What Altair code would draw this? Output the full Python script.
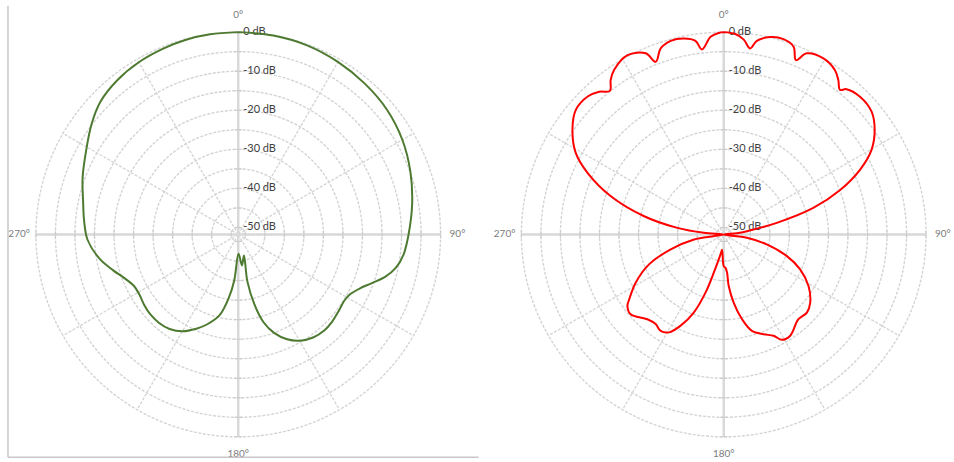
import altair as alt
import pandas as pd

# Polar response plots: level in dB against angle (clockwise from 0° on top)
FLOOR_DB = -51.8                      # level that sits at the centre of each plot
RING_DB = [0, -5, -10, -15, -20, -25, -30, -35, -40, -45, -50]
LABEL_DB = [0, -10, -20, -30, -40, -50]
SPOKE_DEG = list(range(0, 360, 30))
COMPASS_DEG = [0, 90, 180, 270]
COMPASS_TEXT = ["0°", "90°", "180°", "270°"]

# left pattern (green), listed in drawing order
green_deg = [0, 10, 20, 30, 40, 50, 60, 70, 80, 90, 97, 102, 106, 110, 114, 118, 122,
             127, 133, 138, 144, 150, 155, 160, 164, 167, 169, 164.8, 173.2, 179, 185,
             188.4, 193, 199, 204, 210, 216, 222, 228, 233, 239, 244, 249, 254, 260,
             268, 275, 282, 290, 299, 307, 314, 322, 330, 338, 345, 352, 360]
green_db = [0, -0.1, -0.3, -0.8, -1.4, -2.1, -3.3, -4.9, -6.6, -8.2, -9.2, -10.6,
            -12.6, -15.4, -17.8, -19.3, -19.8, -19.5, -19.0, -18.8, -19.2, -20.4,
            -22.2, -25.0, -28.5, -33.5, -39.5, -46.2, -43.8, -46.9, -40.0, -35.5,
            -30.6, -27.5, -25.4, -23.2, -21.9, -21.4, -21.4, -21.7, -22.2, -22.0,
            -20.6, -18.5, -15.8, -13.2, -12.2, -11.2, -9.4, -7.3, -4.8, -2.8, -1.6,
            -0.9, -0.5, -0.2, -0.05, 0]

# right pattern (red), listed in drawing order
red_deg = [0, 3.3, 5.8, 8.1, 9.7, 13.2, 17.0, 20.4, 22.5, 24.6, 29.5, 34.1, 36.6,
           38.8, 40.2, 44.7, 50.3, 55.3, 60.2, 64.6, 69.1, 73.5, 77.7, 81.9, 84.3,
           90, 98.1, 103, 108.9, 114.5, 121.3, 128.3, 133.2, 138.6, 146.7, 151.1,
           153.8, 158.2, 163.7, 167.8, 171.7, 174.5, 175, 177.1, 180, 186.3, 188.3,
           191.3, 194.6, 197.4, 201, 205.3, 209.2, 213.2, 217.2, 222, 229.4, 233.4,
           235.6, 241.3, 248.2, 254.3, 260.5, 260.5, 270, 274.8, 278.1, 282.9, 288.7,
           294.3, 298.8, 304.7, 310.1, 315.4, 318.9, 321.6, 323.8, 326.3, 331.8,
           336.7, 338.5, 341.3, 344.7, 348.5, 351.7, 353.3, 356.2, 358.6, 360]
red_db = [0.0, -0.4, -1.6, -3.7, -1.5, 0.1, 0.5, -0.5, -3.5, -0.8, 0.0, -1.0, -2.6,
          -4.3, -3.1, -2.2, -2.6, -4.8, -8.2, -13.2, -19.9, -27.9, -37.9, -45.8,
          -48.4, -51.8, -45.8, -40.5, -34.7, -30.3, -26.4, -23.6, -22.6, -22.9,
          -20.8, -21.0, -22.9, -24.3, -26.1, -29.6, -34.2, -38.6, -42.0, -43.3,
          -43.7, -47.9, -47.1, -45.3, -41.7, -36.2, -30.4, -26.0, -23.1, -22.3,
          -23.0, -22.6, -20.4, -21.1, -22.5, -26.1, -31.2, -37.7, -44.1, -49.2,
          -51.8, -46.7, -39.8, -30.9, -21.3, -13.6, -8.6, -4.7, -2.3, -2.2, -3.3,
          -4.9, -2.8, -1.2, 0.3, -1.3, -4.3, -1.5, -0.4, -0.6, -1.7, -4.1, -1.1,
          -0.2, 0.0]

PX_PER_UNIT = 203 / (0 - FLOOR_DB)
H = 462
CENTRE_Y = 234.5


def to_xy(chart):
    """Project (deg, db) rows onto plot coordinates."""
    return chart.transform_calculate(
        r=f"datum.db - ({FLOOR_DB})",
        x="datum.r * sin(datum.deg * PI / 180)",
        y="datum.r * cos(datum.deg * PI / 180)",
    )


def panel(deg, db, color, width, centre_px, frame):
    xs = alt.Scale(domain=[-centre_px / PX_PER_UNIT, (width - centre_px) / PX_PER_UNIT],
                   nice=False, zero=False)
    ys = alt.Scale(domain=[-(H - CENTRE_Y) / PX_PER_UNIT, CENTRE_Y / PX_PER_UNIT],
                   nice=False, zero=False)
    X = lambda f: alt.X(f, scale=xs, axis=None)
    Y = lambda f: alt.Y(f, scale=ys, axis=None)

    ring_rows = [{"level": lv, "deg": d, "db": lv} for lv in RING_DB for d in range(0, 362, 2)]
    rings = to_xy(alt.Chart(pd.DataFrame(ring_rows))).mark_line(
        color="#d4d4d4", strokeWidth=1.4, strokeDash=[3, 1.5]
    ).encode(x=X("x:Q"), y=Y("y:Q"), detail="level:N", order="deg:Q")

    spokes = to_xy(alt.Chart(pd.DataFrame({"deg": SPOKE_DEG, "db": 0}))).transform_calculate(
        x0="0", y0="0"
    ).mark_rule(color="#d6d6d6", strokeWidth=1.4, strokeDash=[3, 1.5]).encode(
        x=X("x0:Q"), y=Y("y0:Q"), x2="x:Q", y2="y:Q")

    axes = to_xy(alt.Chart(pd.DataFrame({"deg": [0, 90], "db": 0}))).transform_calculate(
        xn="-datum.x", yn="-datum.y"
    ).mark_rule(color="#d9d9d9", strokeWidth=2.5).encode(
        x=X("x:Q"), y=Y("y:Q"), x2="xn:Q", y2="yn:Q")

    tick_rows = pd.DataFrame([{"deg": d, "db": lv} for d in COMPASS_DEG for lv in RING_DB])
    ticks_h = to_xy(alt.Chart(tick_rows)).transform_filter(
        "datum.deg == 90 || datum.deg == 270"
    ).mark_tick(orient="vertical", size=8, thickness=1, color="#c4c4c4").encode(
        x=X("x:Q"), y=Y("y:Q"))
    ticks_v = to_xy(alt.Chart(tick_rows)).transform_filter(
        "datum.deg == 0 || datum.deg == 180"
    ).mark_tick(orient="horizontal", size=8, thickness=1, color="#c4c4c4").encode(
        x=X("x:Q"), y=Y("y:Q"))

    db_labels = to_xy(alt.Chart(pd.DataFrame({"deg": 0, "db": LABEL_DB}))).transform_calculate(
        txt="datum.db + ' dB'"
    ).mark_text(align="left", baseline="middle", dx=5, fontSize=11,
                font="Lato", color="#404040").encode(x=X("x:Q"), y=Y("y:Q"), text="txt:N")

    compass = to_xy(alt.Chart(pd.DataFrame(
        {"deg": COMPASS_DEG, "db": 4.3, "txt": COMPASS_TEXT}))).mark_text(
        align="center", baseline="middle", fontSize=10, font="Lato", color="#7a7a7a"
    ).encode(x=X("x:Q"), y=Y("y:Q"), text="txt:N")

    curve_df = pd.DataFrame({"deg": deg, "db": db, "seq": range(len(deg))})
    curve = to_xy(alt.Chart(curve_df)).mark_line(
        color=color, strokeWidth=2, strokeJoin="round", interpolate="catmull-rom"
    ).encode(x=X("x:Q"), y=Y("y:Q"), order="seq:Q")

    layers = [rings, spokes, axes, ticks_h, ticks_v, db_labels, compass, curve]
    if frame:
        edge_l = alt.Chart(pd.DataFrame({"k": [0]})).mark_rule(
            color="#c8c8c8", strokeWidth=1.5).encode(
            x=alt.value(8), y=alt.value(5), y2=alt.value(458))
        edge_b = alt.Chart(pd.DataFrame({"k": [0]})).mark_rule(
            color="#c8c8c8", strokeWidth=1.5).encode(
            x=alt.value(8), x2=alt.value(width + 2), y=alt.value(458))
        layers += [edge_l, edge_b]
    return alt.layer(*layers).properties(width=width, height=H)


left = panel(green_deg, green_db, "#4d7a30", 478, 239, True)
right = panel(red_deg, red_db, "#ff0000", 476, 245, False)

chart = alt.hconcat(left, right, spacing=0).properties(
    padding=0, background="white"
).configure_view(stroke=None)

chart.save("out.html", embed_options={"renderer": "svg", "actions": False})
